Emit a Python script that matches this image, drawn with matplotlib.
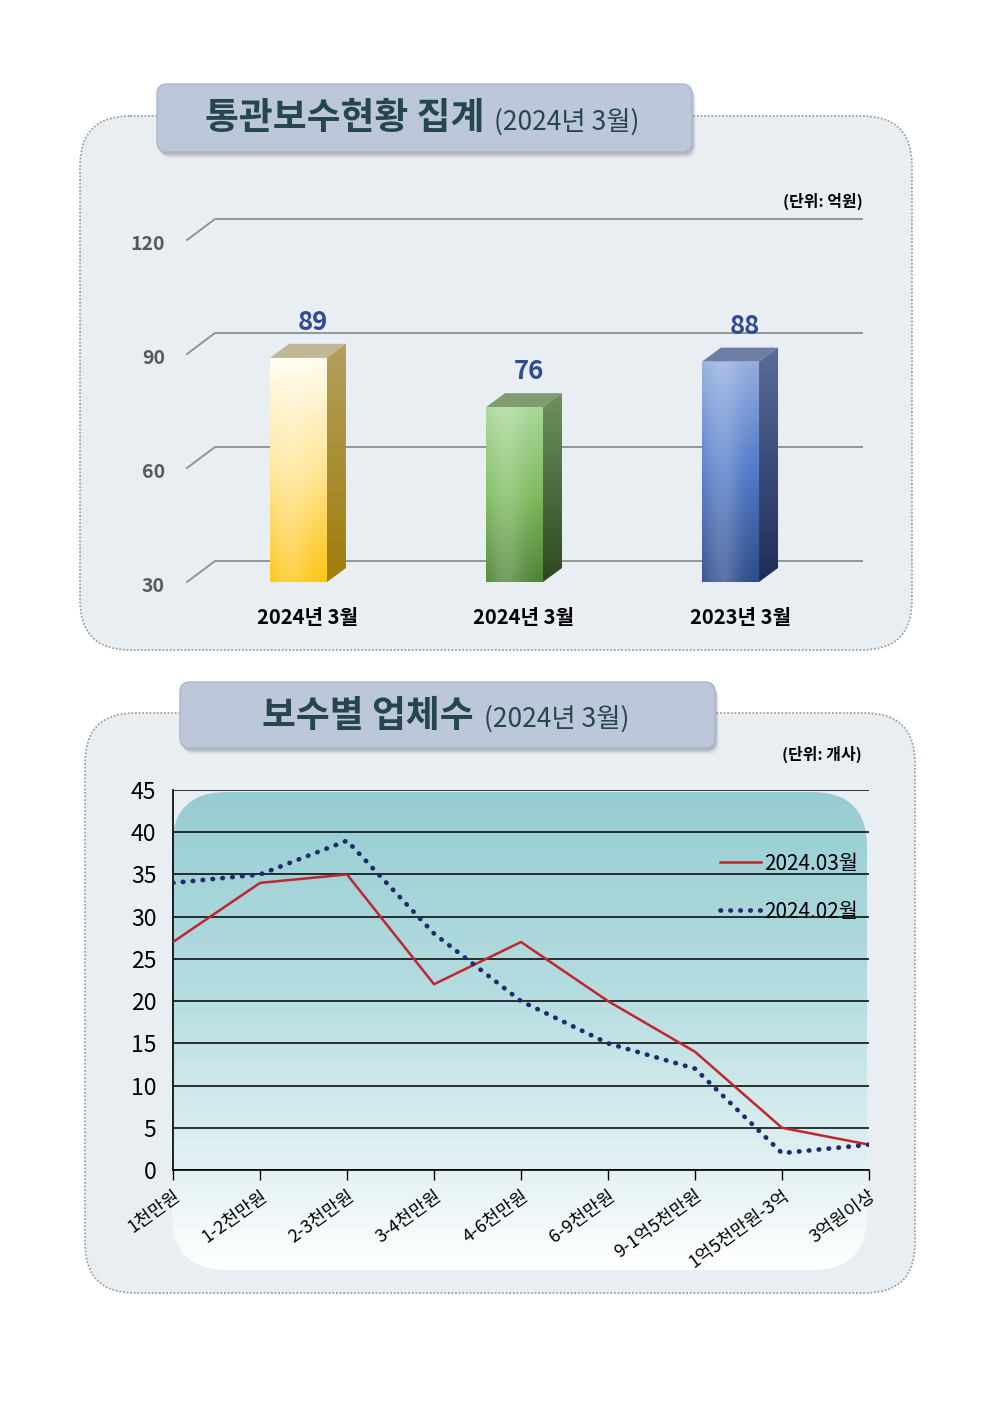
import numpy as np
import matplotlib
matplotlib.use('Agg')
import matplotlib.pyplot as plt
from matplotlib.patches import FancyBboxPatch, Rectangle, Polygon
from matplotlib.colors import LinearSegmentedColormap
from matplotlib.transforms import ScaledTranslation

plt.rcParams['font.family'] = ['Noto Sans CJK KR', 'DejaVu Sans']

# ---------------- data ----------------
title1 = '통관보수현황 집계'
title2 = '보수별 업체수'
subtitle = '(2024년 3월)'

bar_categories = ['2024년 3월', '2024년 3월', '2023년 3월']
bar_values = [89, 76, 88]
bar_yticks = [30, 60, 90, 120]
bar_unit = '(단위: 억원)'

line_categories = ['1천만원', '1-2천만원', '2-3천만원', '3-4천만원', '4-6천만원',
                   '6-9천만원', '9-1억5천만원', '1억5천만원-3억', '3억원이상']
series_mar = [27, 34, 35, 22, 27, 20, 14, 5, 3]
series_feb = [34, 35, 39, 28, 20, 15, 12, 2, 3]
series_names = ['2024.03월', '2024.02월']
line_yticks = [0, 5, 10, 15, 20, 25, 30, 35, 40, 45]
line_unit = '(단위: 개사)'

# ---------------- figure ----------------
W, H = 992, 1403
fig = plt.figure(figsize=(W / 100, H / 100), dpi=100)
fig.patch.set_facecolor('white')

bg = fig.add_axes([0, 0, 1, 1], zorder=0)
bg.axis('off')

TITLE_COLOR = '#26464E'


def panel(x0, y0, x1, y1):
    p = FancyBboxPatch((x0, y0), x1 - x0, y1 - y0,
                       boxstyle='round,pad=0,rounding_size=50',
                       fc='#E9EEF3', ec='#A0A0A0', lw=1.3, ls=(0, (1, 1)), zorder=1)
    bg.add_patch(p)


def title_box(x0, y0, x1, y1, main, tx):
    for k, a in [(6, 0.12), (4, 0.18), (2.5, 0.25)]:
        sh = FancyBboxPatch((x0 + k * 0.6, y0 + k), x1 - x0, y1 - y0,
                            boxstyle='round,pad=0,rounding_size=10',
                            fc='#6F7A8A', ec='none', alpha=a, zorder=3)
        bg.add_patch(sh)
    box = FancyBboxPatch((x0, y0), x1 - x0, y1 - y0,
                         boxstyle='round,pad=0,rounding_size=10',
                         fc='#BCC7D9', ec='#AAB6CA', lw=1, zorder=4)
    bg.add_patch(box)
    t = bg.text(tx, (y0 + y1) / 2 + 1, main, fontsize=26.5, fontweight='bold',
                color=TITLE_COLOR, va='center', ha='left', zorder=5)
    bg.annotate(subtitle, xy=(1, 0.04), xycoords=t, xytext=(10, 0),
                textcoords='offset pixels', fontsize=19, color=TITLE_COLOR,
                va='bottom', ha='left', zorder=5)


panel(80, 116, 912, 650)
panel(85, 713, 915, 1293)
title_box(157, 84, 692, 152, title1, 205)
title_box(180, 682, 715, 748, title2, 262)

bg.text(863, 201, bar_unit, ha='right', va='center', fontsize=11.5, fontweight='bold', zorder=5)
bg.text(862, 754, line_unit, ha='right', va='center', fontsize=11.5, fontweight='bold', zorder=5)

# gradient backdrop for the line chart
gb = FancyBboxPatch((172, 792), 695, 478, boxstyle='round,pad=0,rounding_size=55',
                    fc='none', ec='none', zorder=2)
bg.add_patch(gb)
gcmap = LinearSegmentedColormap.from_list(
    'g', [(0, '#96CDD2'), (0.4, '#B3DCE0'), (0.78, '#E2F1F3'), (1, '#FFFFFF')])
grad = np.linspace(0, 1, 256).reshape(-1, 1)
gim = bg.imshow(grad, cmap=gcmap, extent=(172, 867, 1270, 792), aspect='auto', zorder=2)
gim.set_clip_path(gb)

bg.set_xlim(0, W)
bg.set_ylim(H, 0)

# ---------------- top: pseudo-3D bar chart ----------------
ax1 = fig.add_axes([187 / W, 1 - 582 / H, 647 / W, 342 / H], zorder=2)
ax1.patch.set_alpha(0)
XL = (-0.516, 2.479)
YL = (30, 120)
ppx = 647 / (XL[1] - XL[0])
ppy = 342 / (YL[1] - YL[0])
GDX, GDY = 28 / ppx, 21 / ppy   # depth of the back wall
BDX, BDY = 19 / ppx, 14 / ppy   # depth of each bar
bw = 57 / ppx

for v in bar_yticks:
    ax1.plot([XL[0], XL[0] + GDX, XL[1] + GDX], [v, v + GDY, v + GDY],
             color='#8E8E8E', lw=1.3, clip_on=False, zorder=1)

bar_styles = [
    # front gradient (top->bottom), side gradient, top face
    (['#FFFCEE', '#FFE595', '#FFC414'], ['#B2A05E', '#A07C08'], '#C0B797'),
    (['#A9D697', '#7DBA5C', '#4E8235'], ['#6E9160', '#2C4820'], '#7E9C6F'),
    (['#93ACDF', '#4F78C8', '#2C4A88'], ['#5A6B98', '#1E2D58'], '#6C7EA6'),
]


def grad_image(colors, nx=40, ny=200, highlight=0.0):
    cm = LinearSegmentedColormap.from_list('b', colors)
    t = np.linspace(0, 1, ny)
    col = cm(t)[:, :3]
    img = np.repeat(col[:, None, :], nx, axis=1)
    if highlight:
        xs = np.linspace(0, 1, nx)
        h = highlight * np.exp(-((xs - 0.35) / 0.35) ** 2)
        img = img + (1 - img) * h[None, :, None]
    return np.clip(img, 0, 1)


for i, (v, (fcols, scols, tcol)) in enumerate(zip(bar_values, bar_styles)):
    l, r = i - bw / 2, i + bw / 2
    front = Rectangle((l, 30), bw, v - 30, fc='none', ec='none', zorder=3)
    side = Polygon([(r, 30), (r + BDX, 30 + BDY), (r + BDX, v + BDY), (r, v)],
                   closed=True, fc='none', ec='none', zorder=3)
    top = Polygon([(l, v), (l + BDX, v + BDY), (r + BDX, v + BDY), (r, v)],
                  closed=True, fc=tcol, ec='none', zorder=3)
    ax1.add_patch(front)
    ax1.add_patch(side)
    ax1.add_patch(top)
    im = ax1.imshow(grad_image(fcols, highlight=0.22), extent=(l, r, 30, v),
                    aspect='auto', origin='upper', zorder=3, interpolation='bilinear')
    im.set_clip_path(front)
    im2 = ax1.imshow(grad_image(scols), extent=(r, r + BDX, 30, v + BDY),
                     aspect='auto', origin='upper', zorder=3, interpolation='bilinear')
    im2.set_clip_path(side)
    ax1.annotate(str(v), xy=(i + BDX * 0.75, v + BDY), xytext=(0, 8), textcoords='offset pixels',
                 ha='center', va='bottom', fontsize=18.5, fontweight='bold', color='#2E4B94')
    ax1.annotate(bar_categories[i], xy=(i + BDX / 2, 30), xytext=(0, -35),
                 textcoords='offset pixels', ha='center', va='center',
                 fontsize=14.5, fontweight='bold', color='black', annotation_clip=False)

ax1.set_xlim(*XL)
ax1.set_ylim(*YL)
ax1.set_xticks([])
ax1.set_yticks(bar_yticks)
ax1.set_yticklabels([str(t) for t in bar_yticks], fontweight='bold')
ax1.tick_params(axis='y', length=0, pad=16, labelsize=14, labelcolor='#595959')
shift = ScaledTranslation(0, -3 / 100, fig.dpi_scale_trans)
for lab in ax1.get_yticklabels():
    lab.set_transform(lab.get_transform() + shift)
for s in ax1.spines.values():
    s.set_visible(False)

# ---------------- bottom: line chart ----------------
ax2 = fig.add_axes([173 / W, 1 - 1170 / H, 696 / W, 380 / H], zorder=2)
ax2.patch.set_alpha(0)
xpos = np.arange(len(line_categories))
ax2.plot(xpos, series_mar, color='#C0262D', lw=1.8, label=series_names[0], zorder=3)
ax2.plot(xpos, series_feb, color='#1F2C6B', lw=3.4, ls=(0, (0.1, 2.0)),
         dash_capstyle='round', label=series_names[1], zorder=3)
ax2.set_xlim(0, len(line_categories) - 1)
ax2.set_ylim(0, 45)
ax2.set_yticks(line_yticks)
ax2.yaxis.grid(True, color='black', lw=1.1)
ax2.set_axisbelow(True)
ax2.tick_params(axis='y', length=0, pad=12, labelsize=16.5)
ax2.set_xticks(xpos)
ax2.set_xticklabels(line_categories, rotation=36, ha='right', va='top',
                    rotation_mode='anchor', fontsize=13)
ax2.tick_params(axis='x', length=7, width=1, direction='out', pad=5)
for s in ['top', 'right']:
    ax2.spines[s].set_visible(False)
for s in ['left', 'bottom']:
    ax2.spines[s].set_color('black')
    ax2.spines[s].set_linewidth(1.2)
ax2.legend(loc='upper right', bbox_to_anchor=(0.985, 0.835), frameon=False, fontsize=15,
           handlelength=2.0, handletextpad=0.15, labelspacing=1.25, borderpad=0,
           borderaxespad=0)

fig.savefig('out.png', dpi=100)
